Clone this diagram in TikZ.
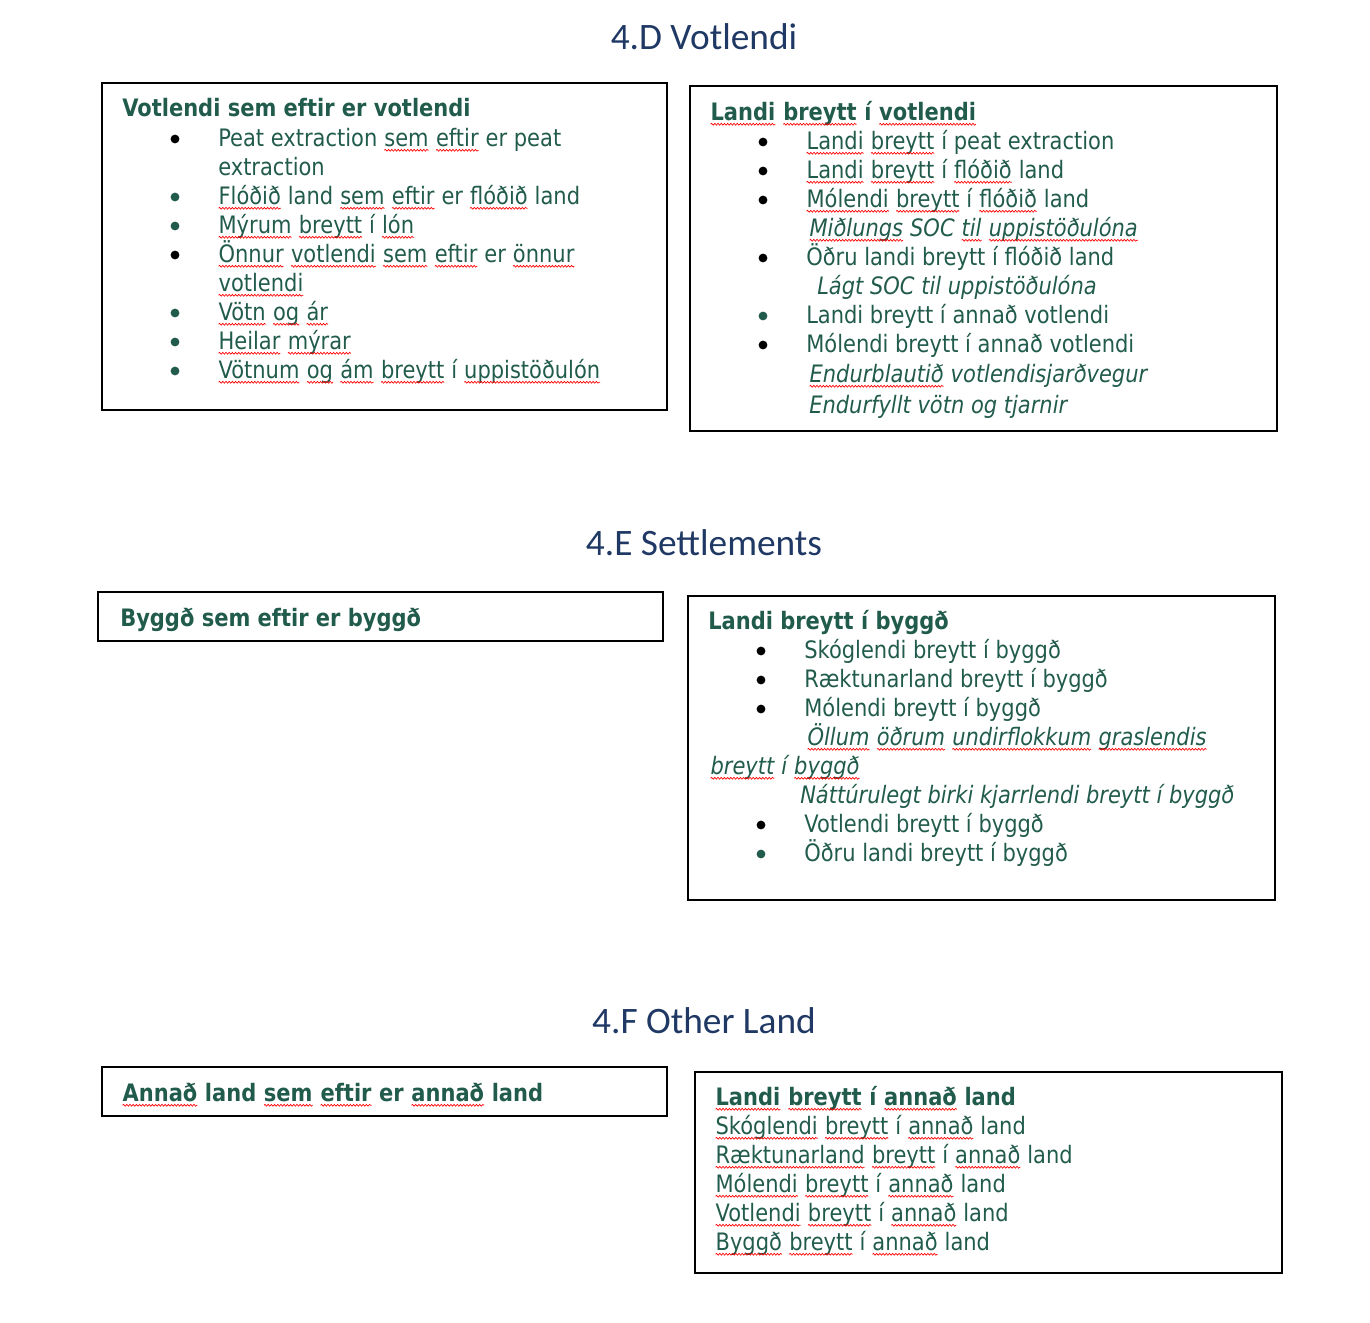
\documentclass[tikz,border=0pt]{standalone}
\usepackage{fontspec}
\usetikzlibrary{decorations.pathmorphing}
\setmainfont{DejaVu Sans}[FakeStretch=0.875]
\newfontfamily\titlefont{Carlito}
\definecolor{tg}{HTML}{215B4B}
\definecolor{tb}{HTML}{1F3864}
\definecolor{sr}{HTML}{FF0000}
\newcommand\sq[1]{\tikz[baseline=(sqw.base),x=1pt,y=1pt]{\node[inner sep=0pt,outer sep=0pt,anchor=base west,text=tg] (sqw) {#1};\draw[sr,line width=0.5pt,decorate,decoration={snake,amplitude=0.7pt,segment length=2.4pt}] ([yshift=-3.2pt]sqw.base west) -- ([yshift=-3.2pt]sqw.base east);}}
\tikzset{
  txt/.style={anchor=base west, inner sep=0pt, text=tg, font=\fontsize{18}{22}\selectfont},
  hd/.style={txt, font=\fontsize{18}{22}\selectfont\bfseries},
  itx/.style={txt, font=\fontsize{18}{22}\selectfont\itshape},
  ttl/.style={anchor=base, inner sep=0pt, text=tb, font=\titlefont\fontsize{28}{34}\selectfont},
  boxline/.style={draw=black, line width=1.6pt},
  bul/.style={circle, fill=black, inner sep=0pt, minimum size=6.6pt},
  bulg/.style={bul, fill=tg},
}
\begin{document}
\begin{tikzpicture}[x=0.75pt,y=-0.75pt]
\useasboundingbox (0,0) rectangle (1370,1322);
% titles
\node[ttl] (t1) at (704,49) {4.D Votlendi};
\node[ttl] (t2) at (704,555) {4.E Settlements};
\node[ttl] (t3) at (704,1033) {4.F Other Land};
% boxes
\draw[boxline] (102,83) rectangle (667,410);
\draw[boxline] (690,86) rectangle (1277,431);
\draw[boxline] (98,592) rectangle (663,641);
\draw[boxline] (688,596) rectangle (1275,900);
\draw[boxline] (102,1067) rectangle (667,1116);
\draw[boxline] (695,1072) rectangle (1282,1273);
% Box A
\node[hd] (a0) at (122,116) {Votlendi sem eftir er votlendi};
\node[bul]  (ab1) at (175,139) {};
\node[txt] (a1) at (218,146) {Peat extraction \sq{sem} \sq{eftir} er peat};
\node[txt] (a2) at (218,175) {extraction};
\node[bulg] (ab3) at (175,197) {};
\node[txt] (a3) at (218,204) {\sq{Flóðið} land \sq{sem} \sq{eftir} er \sq{flóðið} land};
\node[bulg] (ab4) at (175,226) {};
\node[txt] (a4) at (218,233) {\sq{Mýrum} \sq{breytt} í \sq{lón}};
\node[bul]  (ab5) at (175,255) {};
\node[txt] (a5) at (218,262) {\sq{Önnur} \sq{votlendi} \sq{sem} \sq{eftir} er \sq{önnur}};
\node[txt] (a6) at (218,291) {\sq{votlendi}};
\node[bulg] (ab7) at (175,313) {};
\node[txt] (a7) at (218,320) {\sq{Vötn} \sq{og} \sq{ár}};
\node[bulg] (ab8) at (175,342) {};
\node[txt] (a8) at (218,349) {\sq{Heilar} \sq{mýrar}};
\node[bulg] (ab9) at (175,371) {};
\node[txt] (a9) at (218,378) {\sq{Vötnum} \sq{og} \sq{ám} \sq{breytt} í \sq{uppistöðulón}};
% Box B
\node[hd] (b0) at (710,120) {\sq{Landi} \sq{breytt} í \sq{votlendi}};
\node[bul] (bb1) at (763,142) {};
\node[txt] (b1) at (806,149) {\sq{Landi} \sq{breytt} í peat extraction};
\node[bul] (bb2) at (763,171) {};
\node[txt] (b2) at (806,178) {\sq{Landi} \sq{breytt} í \sq{flóðið} land};
\node[bul] (bb3) at (763,200) {};
\node[txt] (b3) at (806,207) {\sq{Mólendi} \sq{breytt} í \sq{flóðið} land};
\node[itx] (b4) at (809,236) {\sq{Miðlungs} SOC \sq{til} \sq{uppistöðulóna}};
\node[bul] (bb5) at (763,258) {};
\node[txt] (b5) at (806,265) {Öðru landi breytt í flóðið land};
\node[itx] (b6) at (817,294) {Lágt SOC til uppistöðulóna};
\node[bulg] (bb7) at (763,316) {};
\node[txt] (b7) at (806,323) {Landi breytt í annað votlendi};
\node[bul] (bb8) at (763,345) {};
\node[txt] (b8) at (806,352) {Mólendi breytt í annað votlendi};
\node[itx] (b9) at (809,382) {\sq{Endurblautið} votlendisjarðvegur};
\node[itx] (b10) at (809,413) {Endurfyllt vötn og tjarnir};
% Box C
\node[hd] (c0) at (120,626) {Byggð sem eftir er byggð};
% Box D
\node[hd] (d0) at (708,629) {Landi breytt í byggð};
\node[bul] (db1) at (761,651) {};
\node[txt] (d1) at (804,658) {Skóglendi breytt í byggð};
\node[bul] (db2) at (761,680) {};
\node[txt] (d2) at (804,687) {Ræktunarland breytt í byggð};
\node[bul] (db3) at (761,709) {};
\node[txt] (d3) at (804,716) {Mólendi breytt í byggð};
\node[itx] (d4) at (807,745) {\sq{Öllum} \sq{öðrum} \sq{undirflokkum} \sq{graslendis}};
\node[itx] (d5) at (710,774) {\sq{breytt} í \sq{byggð}};
\node[itx] (d6) at (800,803) {Náttúrulegt birki kjarrlendi breytt í byggð};
\node[bul] (db7) at (761,825) {};
\node[txt] (d7) at (804,832) {Votlendi breytt í byggð};
\node[bulg] (db8) at (761,854) {};
\node[txt] (d8) at (804,861) {Öðru landi breytt í byggð};
% Box E
\node[hd] (e0) at (122,1101) {\sq{Annað} land \sq{sem} \sq{eftir} er \sq{annað} land};
% Box F
\node[hd] (f0) at (715,1105) {\sq{Landi} \sq{breytt} í \sq{annað} land};
\node[txt] (f1) at (715,1134) {\sq{Skóglendi} \sq{breytt} í \sq{annað} land};
\node[txt] (f2) at (715,1163) {\sq{Ræktunarland} \sq{breytt} í \sq{annað} land};
\node[txt] (f3) at (715,1192) {\sq{Mólendi} \sq{breytt} í \sq{annað} land};
\node[txt] (f4) at (715,1221) {\sq{Votlendi} \sq{breytt} í \sq{annað} land};
\node[txt] (f5) at (715,1250) {\sq{Byggð} \sq{breytt} í \sq{annað} land};
\end{tikzpicture}
\end{document}
